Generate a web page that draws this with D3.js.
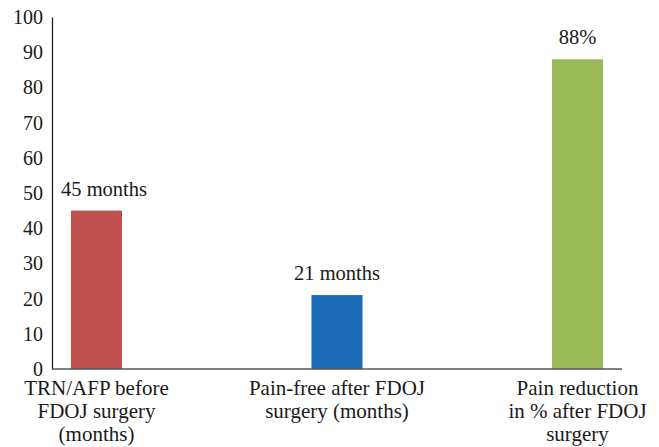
<!DOCTYPE html>
<html>
<head>
<meta charset="utf-8">
<script src="https://cdn.jsdelivr.net/npm/d3@7"></script>
<style>
  body { margin: 0; background: #fff; }
  svg text { font-family: "Liberation Serif", "DejaVu Serif", serif; fill: #1a1a1a; }
</style>
</head>
<body>
<div id="chart"></div>
<script>
const categories = [
  ["TRN/AFP before", "FDOJ surgery", "(months)"],
  ["Pain-free after FDOJ", "surgery (months)"],
  ["Pain reduction", "in % after FDOJ", "surgery"]
];
const values = [45, 21, 88];
const valueLabels = ["45 months", "21 months", "88%"];
const barColors = ["#c0504d", "#1b6bb6", "#9bbb59"];
const yTicks = [0, 10, 20, 30, 40, 50, 60, 70, 80, 90, 100];

const width = 659;
const height = 447;
const x0 = 52, x1 = 622;   // axis extent
const yTop = 17, yBottom = 369;

const svg = d3.select("#chart")
  .append("svg")
  .attr("width", width)
  .attr("height", height);

const x = d3.scalePoint().domain(d3.range(values.length)).range([96.5, 577.5]);
const y = d3.scaleLinear().domain([0, 100]).range([yBottom, yTop]);
const barWidth = 51;

// bars
svg.selectAll(".bar")
  .data(values)
  .enter()
  .append("rect")
  .attr("class", "bar")
  .attr("x", (d, i) => x(i) - barWidth / 2)
  .attr("y", d => y(d))
  .attr("width", barWidth)
  .attr("height", d => y(0) - y(d))
  .style("fill", (d, i) => barColors[i]);

// value labels (first one nudged right so it clears the y axis)
svg.selectAll(".val")
  .data(values)
  .enter()
  .append("text")
  .attr("class", "val")
  .attr("x", (d, i) => x(i))
  .attr("dx", (d, i) => i === 0 ? 7.5 : 0)
  .attr("y", d => y(d) - 15)
  .attr("text-anchor", "middle")
  .style("font-size", "20.5px")
  .text((d, i) => valueLabels[i]);

// y axis
const yAxis = d3.axisLeft(y).tickValues(yTicks).tickSize(0).tickPadding(9);
const gy = svg.append("g")
  .attr("transform", `translate(${x0},0)`)
  .call(yAxis);
gy.select(".domain").attr("stroke", "#222").attr("stroke-width", 1.3);
gy.selectAll("text")
  .style("font-family", "'Liberation Serif', serif")
  .style("font-size", "20px")
  .attr("fill", "#1a1a1a");

// x axis line
svg.append("line")
  .attr("x1", x0).attr("x2", x1)
  .attr("y1", y(0)).attr("y2", y(0))
  .attr("stroke", "#555")
  .attr("stroke-width", 1.5);

// category labels
const cat = svg.selectAll(".cat")
  .data(categories)
  .enter()
  .append("text")
  .attr("class", "cat")
  .attr("text-anchor", "middle")
  .style("font-size", "21px");
cat.selectAll("tspan")
  .data((d, i) => d.map(line => ({ line, i })))
  .enter()
  .append("tspan")
  .attr("x", d => x(d.i))
  .attr("y", (d, j) => 395 + j * 23)
  .text(d => d.line);
</script>
</body>
</html>
